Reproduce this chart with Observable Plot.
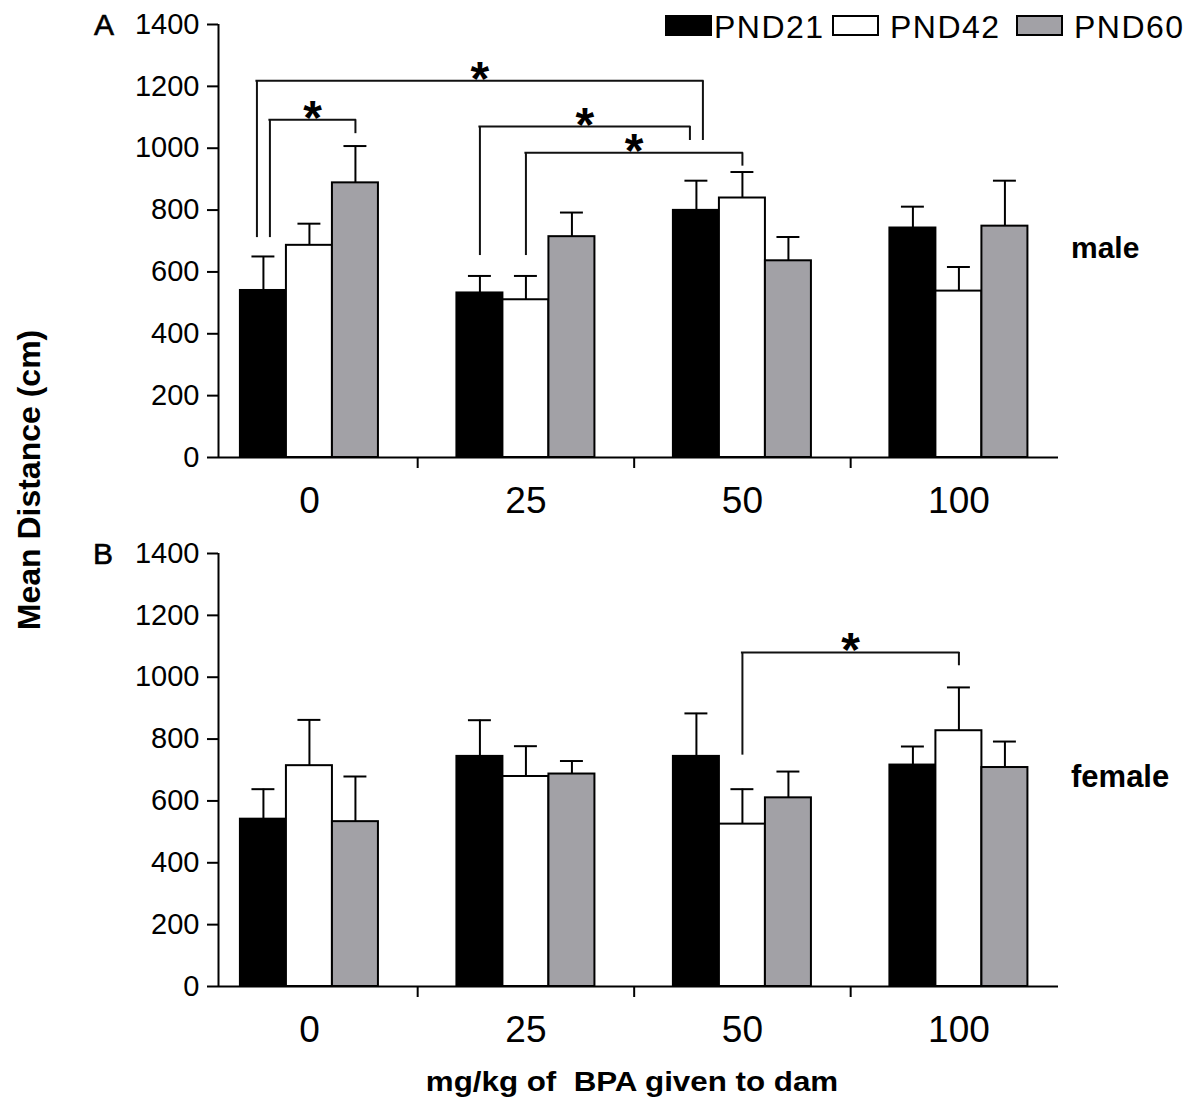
<!DOCTYPE html>
<html>
<head>
<meta charset="utf-8">
<script src="https://cdn.jsdelivr.net/npm/d3@7"></script>
<script src="https://cdn.jsdelivr.net/npm/@observablehq/plot@0.6"></script>
<style>
  html, body { margin: 0; padding: 0; background: #fff; }
  #wrap { position: relative; width: 1198px; height: 1105px; overflow: hidden;
          font-family: "Liberation Sans", Arial, sans-serif; color: #000; background: #fff; }
  .abs { position: absolute; line-height: 1; white-space: nowrap; }
  .panel { position: absolute; left: 0; }
  .sw { position: absolute; box-sizing: border-box; border: 2px solid #000; }
</style>
</head>
<body>
<div id="wrap"></div>
<script>
// ---------------- data ----------------
const doses = [0, 25, 50, 100];
const seriesNames = ["PND21", "PND42", "PND60"];
const seriesColors = ["#000000", "#ffffff", "#a2a1a6"];
const yTicks = [0, 200, 400, 600, 800, 1000, 1200, 1400];

// male (panel A)
const malePND21 = [540, 532, 799, 742];
const malePND21Err = [110, 55, 96, 69];
const malePND42 = [686, 510, 839, 538];
const malePND42Err = [70, 77, 84, 78];
const malePND60 = [888, 714, 636, 748];
const malePND60Err = [119, 78, 77, 147];

// female (panel B)
const femalePND21 = [541, 744, 744, 716];
const femalePND21Err = [97, 117, 139, 60];
const femalePND42 = [714, 679, 525, 827];
const femalePND42Err = [148, 98, 113, 140];
const femalePND60 = [533, 687, 610, 708];
const femalePND60Err = [146, 42, 85, 84];

// significance brackets: from/to = [dose, series], heights in cm
const maleBrackets = [
  {from: [0, "PND21"], to: [50, "PND21"], fromY: 711, top: 1218, toY: 1025},
  {from: [0, "PND21"], to: [0, "PND60"], fromY: 711, top: 1092, toY: 1047},
  {from: [25, "PND21"], to: [50, "PND21"], fromY: 653, top: 1070, toY: 1025},
  {from: [25, "PND42"], to: [50, "PND42"], fromY: 653, top: 985, toY: 942}
];
const femaleBrackets = [
  {from: [50, "PND42"], to: [100, "PND42"], fromY: 748, top: 1080, toY: 1037}
];

// ---------------- layout helpers ----------------
const BAR_W = 0.2125;     // bar width in group units
const CAP_HALF = 0.053;   // half width of error caps
const NUDGE = 0.03;       // separation of bracket legs sharing a bar
const X0 = -0.42, X1 = 3.46;

function center(dose, s) {
  return doses.indexOf(dose) + (seriesNames.indexOf(s) - 1) * BAR_W;
}

function buildRows(means, errs) {
  const rows = [];
  seriesNames.forEach((s, si) => {
    doses.forEach((d, di) => {
      const x = center(d, s);
      const m = means[si][di], e = errs[si][di];
      rows.push({series: s, dose: d, x, x1: x - BAR_W / 2, x2: x + BAR_W / 2,
                 mean: m, hi: m + e, c1: x - CAP_HALF, c2: x + CAP_HALF});
    });
  });
  return rows;
}

function buildBrackets(list) {
  const legs = [];
  list.forEach((b, i) => {
    legs.push({i, side: "left", key: b.from.join("|"), top: b.top});
    legs.push({i, side: "right", key: b.to.join("|"), top: b.top});
  });
  const nudge = {};
  d3.groups(legs, l => l.key).forEach(([k, ls]) => {
    if (ls.length < 2) { ls.forEach(l => nudge[l.i + l.side] = 0); return; }
    ls.sort((a, b) => b.top - a.top);
    ls.forEach((l, j) => {
      const out = l.side === "left" ? -NUDGE : NUDGE;
      nudge[l.i + l.side] = j === 0 ? out : -out;
    });
  });
  return list.map((b, i) => {
    const xl = center(b.from[0], b.from[1]) + nudge[i + "left"];
    const xr = center(b.to[0], b.to[1]) + nudge[i + "right"];
    return {...b, xl, xr, xm: (xl + xr) / 2};
  });
}

function panel(rows, brackets) {
  const seps = doses.slice(1).map((d, i) => i + 0.5);
  return Plot.plot({
    width: 1198, height: 530,
    marginLeft: 218, marginRight: 140, marginTop: 24, marginBottom: 73,
    x: {domain: [X0, X1]},
    y: {domain: [0, 1400]},
    color: {domain: seriesNames, range: seriesColors},
    style: {fontFamily: '"Liberation Sans", Arial, sans-serif', color: "#000", background: "transparent", overflow: "visible"},
    marks: [
      Plot.rect(rows, {x1: "x1", x2: "x2", y1: 0, y2: "mean", fill: "series", stroke: "#000", strokeWidth: 2}),
      Plot.ruleX(rows, {x: "x", y1: "mean", y2: "hi", stroke: "#000", strokeWidth: 2}),
      Plot.ruleY(rows, {y: "hi", x1: "c1", x2: "c2", stroke: "#000", strokeWidth: 2}),
      Plot.ruleX([X0], {y1: 0, y2: 1400, stroke: "#000", strokeWidth: 2}),
      Plot.ruleY([0], {stroke: "#000", strokeWidth: 2}),
      Plot.axisY({ticks: yTicks, tickFormat: "d", tickSize: 11, tickPadding: 8, fontSize: 29, strokeWidth: 2, label: null}),
      Plot.axisX({ticks: seps, tickSize: 11, fill: "none", stroke: "#000", strokeWidth: 2, label: null}),
      Plot.axisX({ticks: doses.map((d, i) => i), tickFormat: i => String(doses[i]), tickSize: 0, tickPadding: 29, fontSize: 37, label: null}),
      Plot.ruleX(brackets, {x: "xl", y1: "fromY", y2: "top", stroke: "#111", strokeWidth: 2}),
      Plot.ruleX(brackets, {x: "xr", y1: "toY", y2: "top", stroke: "#111", strokeWidth: 2}),
      Plot.ruleY(brackets, {y: "top", x1: "xl", x2: "xr", stroke: "#111", strokeWidth: 2, strokeLinecap: "square"}),
      Plot.text(brackets, {x: "xm", y: "top", text: d => "*", fontSize: 48, fontWeight: "bold", lineAnchor: "bottom", dy: 14, fill: "#000"})
    ]
  });
}

// ---------------- render ----------------
const wrap = document.getElementById("wrap");

const maleRows = buildRows([malePND21, malePND42, malePND60], [malePND21Err, malePND42Err, malePND60Err]);
const femaleRows = buildRows([femalePND21, femalePND42, femalePND60], [femalePND21Err, femalePND42Err, femalePND60Err]);

const pA = panel(maleRows, buildBrackets(maleBrackets));
pA.classList.add("panel"); pA.style.top = "0px";
wrap.appendChild(pA);

const pB = panel(femaleRows, buildBrackets(femaleBrackets));
pB.classList.add("panel"); pB.style.top = "529px";
wrap.appendChild(pB);

function addText(txt, css) {
  const d = document.createElement("div");
  d.className = "abs";
  d.textContent = txt;
  Object.assign(d.style, css);
  wrap.appendChild(d);
  return d;
}

// panel letters
addText("A", {left: "94px", top: "10px", fontSize: "30px", WebkitTextStroke: "0.6px #000"});
addText("B", {left: "93px", top: "539px", fontSize: "30px", WebkitTextStroke: "0.6px #000"});

// sex labels
addText("male", {left: "1071px", top: "233px", fontSize: "30px", fontWeight: "bold"});
addText("female", {left: "1071px", top: "761px", fontSize: "31px", fontWeight: "bold"});

// axis titles
addText("Mean Distance (cm)", {left: "29px", top: "480px", fontSize: "32px", fontWeight: "bold",
  transform: "translate(-50%, -50%) rotate(-90deg)"});
addText("mg/kg of  BPA given to dam", {left: "632px", top: "1069px", fontSize: "27px", fontWeight: "bold",
  whiteSpace: "pre", transform: "translateX(-50%) scaleX(1.16)"});

// legend
const swLeft = [665, 832, 1016];
const txLeft = [714, 890, 1074];
seriesNames.forEach((s, i) => {
  const sw = document.createElement("div");
  sw.className = "sw";
  Object.assign(sw.style, {left: swLeft[i] + "px", top: "15px", width: "47px", height: "21px", background: seriesColors[i]});
  wrap.appendChild(sw);
  addText(s, {left: txLeft[i] + "px", top: "11px", fontSize: "32px", letterSpacing: "1.5px"});
});
</script>
</body>
</html>
